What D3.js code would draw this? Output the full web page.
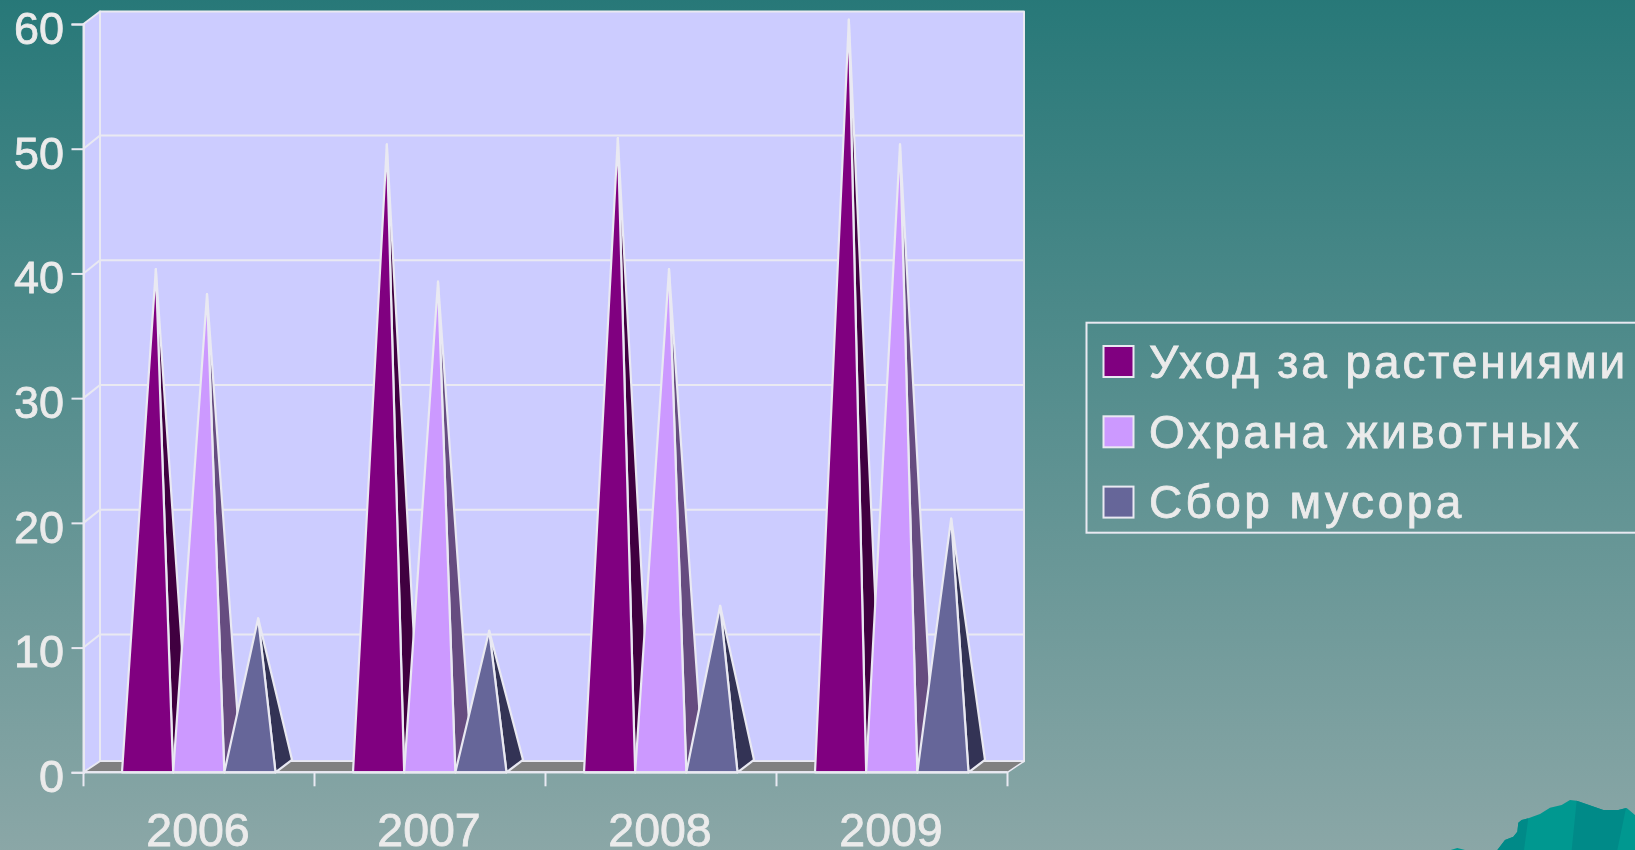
<!DOCTYPE html>
<html><head><meta charset="utf-8">
<script src="https://cdn.jsdelivr.net/npm/d3@7"></script>
<style>html,body{margin:0;padding:0;overflow:hidden;background:#5a8f8f}svg{display:block;filter:blur(0.45px)}text{font-family:"Liberation Sans",Arial,sans-serif;fill:#ebebeb;stroke:#ebebeb;stroke-width:0.8px}</style>
</head><body><svg id="c" width="1635" height="850"></svg>
<script>
const years = ["2006","2007","2008","2009"];
const seriesNames = ["Уход за растениями","Охрана животных","Сбор мусора"];
const careValues = [40,50,50.5,60];
const animalValues = [38,39,40,50];
const litterValues = [12,11,13,20];
const yTicks = [0,10,20,30,40,50,60];
const allSeries = [careValues,animalValues,litterValues];
const frontColors = ["#800080","#CC99FF","#666699"];
const sideColors = ["#400040","#664C80","#333355"];
const ridgeOutline = [[352,240],[375,210],[400,200],[412,185],[415,158],[425,150],[445,145],[480,132],[510,113],[545,105],[570,90],[590,92],[670,120],[715,120],[740,114],[765,135],[765,240]];
const ridgeShadeA = [[590,92],[670,120],[715,120],[738,114],[712,240],[575,240]];
const ridgeShadeB = [[352,240],[375,210],[400,200],[412,185],[415,158],[425,150],[445,145],[432,240]];
const ridgeBump = [[212,240],[232,234],[255,240]];

const svg = d3.select("#c");
const W = 1635, H = 850;
const defs = svg.append("defs");
const g = defs.append("linearGradient").attr("id","bg").attr("x1",0).attr("y1",0).attr("x2",0).attr("y2",1);
g.append("stop").attr("offset",0).attr("stop-color","#277878");
g.append("stop").attr("offset",1).attr("stop-color","#8ba7a7");
svg.append("rect").attr("x",-5).attr("y",-5).attr("width",W+10).attr("height",H+10).attr("fill","url(#bg)");

// decorative ridge, bottom right
const dl = d3.line().x(d=>1380+d[0]/3).y(d=>770+d[1]/3);
[[ridgeOutline,"#009890"],[ridgeShadeA,"#008a88"],[ridgeShadeB,"#008a88"],[ridgeBump,"#009890"]].forEach(([p,c])=>
  svg.append("path").attr("d",dl(p)+"Z").attr("fill",c));

const DX = 16.5, WALL_DY = -12.5, GRID_DY = -13.2, FLOOR_DY = -11, CONE_DX = 16.5, LINE = "#e9e9f2";
const x0 = d3.scaleBand().domain(years).range([83.5,1007.5]);
const x1 = d3.scaleBand().domain(d3.range(3)).range([38.5,192]);
const y = d3.scaleLinear().domain([0,60]).range([772.3,24]);
const [yb,yt] = [y(0),y(60)];
const xl = x0.range()[0], xr = x0.range()[1];

// walls and floor
const poly = (pts,fill,stroke,sw)=>svg.append("polygon").attr("points",pts.map(p=>p.join(",")).join(" "))
  .attr("fill",fill).attr("stroke",stroke||"none").attr("stroke-width",sw||0).attr("stroke-linejoin","round");
poly([[xl,yb],[xl+DX,yb+FLOOR_DY],[xl+DX,yt+WALL_DY],[xl,yt]],"#CCCCFF",LINE,2);
poly([[xl+DX,yb+FLOOR_DY],[xr+DX,yb+FLOOR_DY],[xr+DX,yt+WALL_DY],[xl+DX,yt+WALL_DY]],"#CCCCFF",LINE,2);
poly([[xl,yb],[xl+DX,yb+FLOOR_DY],[xr+DX,yb+FLOOR_DY],[xr,yb]],"#808080",LINE,1.5);

// gridlines on the walls
const gl = svg.append("g").attr("stroke",LINE).attr("stroke-width",2).attr("fill","none");
yTicks.slice(1,-1).forEach(t=>{
  gl.append("path").attr("d",`M${xl},${y(t)}L${xl+DX},${y(t)+GRID_DY}L${xr+DX},${y(t)+GRID_DY}`);
});

// axes
const axY = d3.axisLeft(y).tickValues(yTicks).tickSize(12).tickPadding(7.5);
const ay = svg.append("g").attr("transform",`translate(${xl},0)`).call(axY);
ay.select(".domain").attr("stroke",LINE).attr("stroke-width",2);
ay.selectAll(".tick line").attr("stroke",LINE).attr("stroke-width",2);
ay.selectAll("text").attr("font-size",45).attr("fill","#ebebeb").attr("font-family","Liberation Sans").attr("dy","0.43em");

const tickVals = d3.range(5).map(i=>xl+i*x0.step());
const gx = svg.append("g").attr("stroke",LINE).attr("stroke-width",2);
gx.append("line").attr("x1",xl).attr("x2",xr).attr("y1",yb).attr("y2",yb);
gx.selectAll("line.t").data(tickVals).enter().append("line").attr("class","t")
  .attr("x1",d=>d).attr("x2",d=>d).attr("y1",yb).attr("y2",yb+14);
svg.selectAll("text.yr").data(years).enter().append("text").attr("class","yr")
  .attr("x",d=>x0(d)+x0.bandwidth()/2-1).attr("y",846).attr("text-anchor","middle").attr("font-size",46.5).text(d=>d);

// pyramids
years.forEach((yr,i)=>{
  allSeries.forEach((vals,s)=>{
    const xa = x0(yr)+x1(s), w = x1.bandwidth(), v = vals[i];
    const apex = [xa+w/2+CONE_DX/2, y(v)+WALL_DY*0.35];
    poly([[xa+w,yb],[xa+w+CONE_DX,yb+WALL_DY],apex],sideColors[s],LINE,2.2);
    poly([[xa,yb],[xa+w,yb],apex],frontColors[s],LINE,2.2);
  });
});
svg.append("line").attr("x1",xl).attr("x2",xr).attr("y1",yb).attr("y2",yb).attr("stroke",LINE).attr("stroke-width",2);

// legend
const legendTracking = [2.9,3.5,3.4];
const lg = svg.append("g");
lg.append("rect").attr("x",1086.5).attr("y",322.7).attr("width",600).attr("height",210)
  .attr("fill","none").attr("stroke",LINE).attr("stroke-width",2);
seriesNames.forEach((n,i)=>{
  lg.append("rect").attr("x",1103.5).attr("y",346+i*70.3).attr("width",30).attr("height",31)
    .attr("fill",frontColors[i]).attr("stroke",LINE).attr("stroke-width",2);
  lg.append("text").attr("x",1149).attr("y",378+i*70).attr("font-size",46).attr("letter-spacing",legendTracking[i]).text(n);
});
</script></body></html>
